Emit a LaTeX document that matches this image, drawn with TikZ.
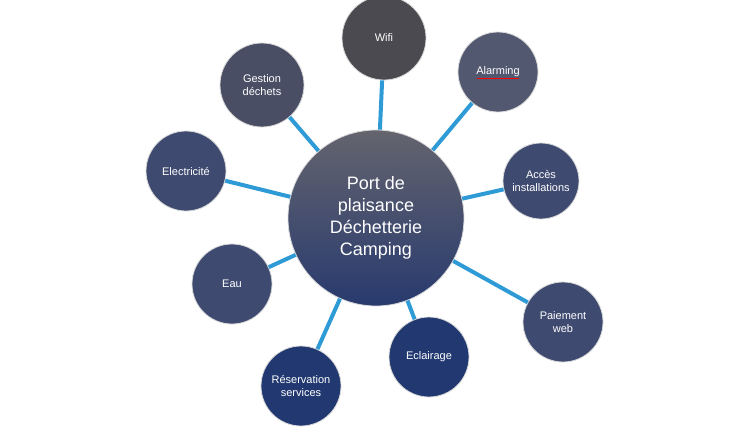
\documentclass[tikz,border=0pt]{standalone}
\usepackage{fontspec}
\setmainfont{Liberation Sans}
\begin{document}
\begin{tikzpicture}[x=1pt,y=-1pt,
  sat/.style={circle,draw=white!70!gray,line width=0.8pt,minimum size=80pt,inner sep=0pt,align=center,text=white,font=\fontsize{11}{13}\selectfont},
  link/.style={draw={rgb,255:red,46;green,155;blue,214},line width=4pt}]
\useasboundingbox (0,0) rectangle (756,429);
\definecolor{sa}{RGB}{62,74,112}
\definecolor{sb}{RGB}{33,56,112}
\node[circle,draw=white!70!gray,line width=0.8pt,minimum size=176pt,inner sep=0pt,align=center,text=white,
  top color={rgb,255:red,100;green,100;blue,110},bottom color={rgb,255:red,40;green,58;blue,110},
  font=\fontsize{18}{22}\selectfont] (c) at (376,218) {Port de\\plaisance\\Déchetterie\\Camping};
\node[sat,fill={rgb,255:red,74;green,74;blue,80},minimum size=84pt] (wifi) at (384,38) {Wifi};
\node[sat,fill={rgb,255:red,82;green,88;blue,112}] (al) at (498,72) {Alarming};
\draw[red,line width=0.8pt] ([xshift=-21pt,yshift=-6pt]al.center) -- ([xshift=21pt,yshift=-6pt]al.center);
\node[sat,fill=sa,minimum size=76pt] (ac) at (541,181) {Accès\\installations};
\node[sat,fill=sa] (pw) at (563,322) {Paiement\\web};
\node[sat,fill=sb] (ec) at (429,357) {Eclairage};
\node[sat,fill=sb] (rs) at (301,386) {Réservation\\services};
\node[sat,fill=sa] (eau) at (232,284) {Eau};
\node[sat,fill=sa] (el) at (186,171) {Electricité};
\node[sat,fill={rgb,255:red,74;green,78;blue,100},minimum size=84pt] (gd) at (262,85) {Gestion\\déchets};
\foreach \n in {wifi,al,ac,pw,ec,rs,eau,el,gd}{
  \path[link] (c) -- (\n);
}
\end{tikzpicture}
\end{document}
